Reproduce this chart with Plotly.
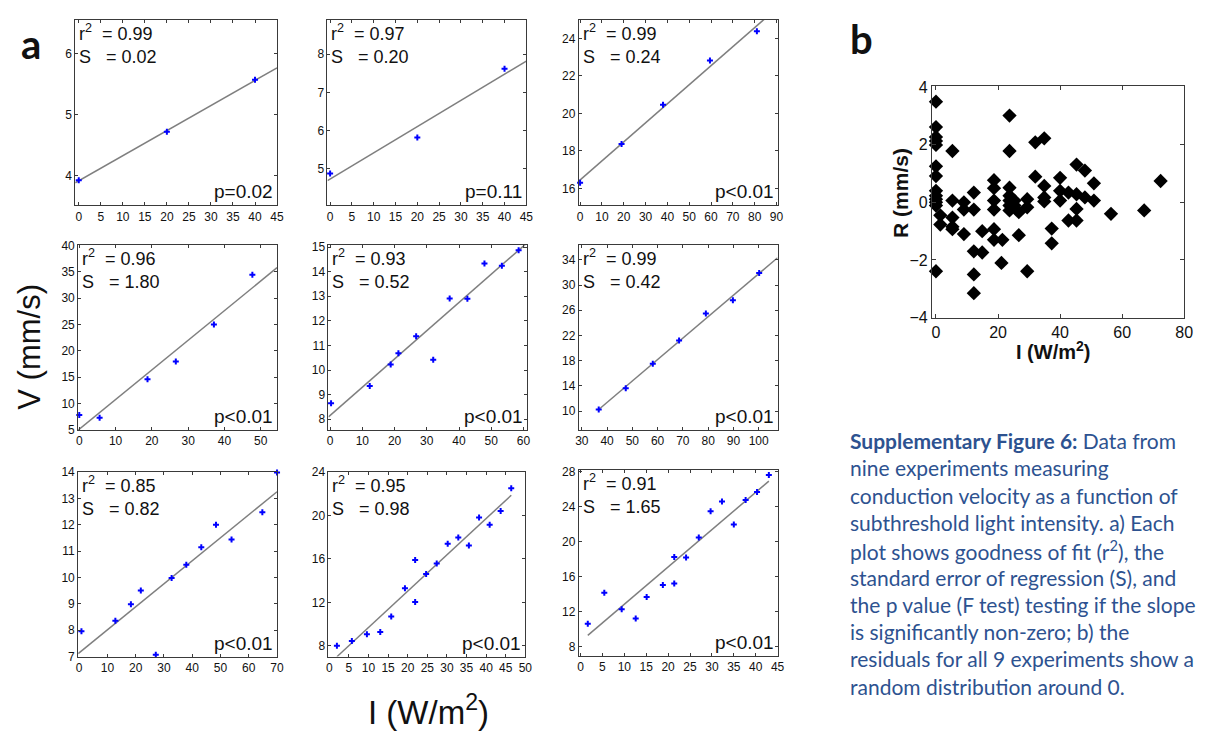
import numpy as np
import plotly.graph_objects as go

W, H = 1212, 734

# ---------------- data (panel a: nine experiments) ----------------
p1_x = [0, 20, 40]
p1_y = [3.93, 4.72, 5.57]
p2_x = [0, 20, 40]
p2_y = [4.88, 5.82, 7.62]
p3_x = [0, 19, 38, 59.5, 81]
p3_y = [16.3, 18.37, 20.47, 22.82, 24.38]
p4_x = [0, 5.6, 18.8, 26.6, 37.1, 47.7]
p4_y = [7.83, 7.34, 14.6, 18.0, 25.0, 34.45]
p5_x = [0.3, 12.3, 18.8, 21.2, 26.7, 32, 37.1, 42.6, 47.9, 53.3, 58.5]
p5_y = [8.65, 9.35, 10.22, 10.68, 11.37, 10.42, 12.91, 12.9, 14.33, 14.24, 14.87]
p6_x = [36.7, 47.4, 58.1, 68.5, 79.1, 89.8, 100.2]
p6_y = [10.26, 13.63, 17.5, 21.2, 25.5, 27.6, 31.9]
p7_x = [0.8, 12.8, 18.3, 21.8, 27.1, 32.7, 37.9, 43.2, 48.4, 53.9, 64.8, 70]
p7_y = [7.96, 8.36, 8.99, 9.51, 7.07, 9.98, 10.48, 11.15, 12.0, 11.44, 12.47, 13.98]
p8_x = [1.95, 5.76, 9.6, 13.0, 15.8, 19.3, 21.9, 21.9, 24.7, 27.4, 30.2, 32.9, 35.6, 38.2, 40.9, 43.7, 46.4]
p8_y = [8.0, 8.45, 9.05, 9.26, 10.7, 13.3, 15.9, 12.04, 14.6, 15.57, 17.4, 17.96, 17.24, 19.8, 19.15, 20.4, 22.5]
p9_x = [1.66, 5.43, 9.4, 12.6, 15.1, 18.8, 21.4, 21.4, 24.1, 27.0, 29.7, 32.3, 35.0, 37.7, 40.3, 43.0]
p9_y = [10.64, 14.17, 12.31, 11.23, 13.69, 15.06, 18.26, 15.25, 18.22, 20.49, 23.5, 24.62, 21.98, 24.77, 25.7, 27.63]

r2_vals = ["0.99", "0.97", "0.99", "0.96", "0.93", "0.99", "0.85", "0.95", "0.91"]
s_vals = ["0.02", "0.20", "0.24", "1.80", "0.52", "0.42", "0.82", "0.98", "1.65"]
p_vals = ["p=0.02", "p=0.11", "p<0.01", "p<0.01", "p<0.01", "p<0.01", "p<0.01", "p<0.01", "p<0.01"]

# ---------------- data (panel b: residuals) ----------------
res_x = [0, 0, 0, 0, 0, 0, 0, 0, 0, 0, 0, 0, 0,
         1.4, 1.4, 5.3, 5.3, 5.3, 5.3, 5.3, 9, 9, 9,
         12.2, 12.2, 12.2, 12.2, 12.2, 14.9, 14.9,
         18.7, 18.7, 18.7, 18.7, 18.7, 18.7, 21.4, 21.1,
         23.7, 23.7, 23.7, 23.7, 23.7, 23.7, 23.7, 25.3, 25.3, 26.7, 26.7,
         29.4, 29.4, 29.4, 32, 32, 34.9, 34.9, 34.9, 34.9, 37.3, 37.3,
         40, 40, 40, 42.7, 42.7, 45.3, 45.3, 45.3, 45.3, 48, 48, 50.9, 50.9,
         56.4, 67.1, 72.4]
res_y = [3.49, 2.61, 2.27, 2.13, 1.99, 1.25, 0.91, 0.4, 0.23, 0.11, 0.0, -0.11, -2.39,
         -0.45, -0.77, 1.78, 0.06, -0.53, -0.85, -0.93, 0.0, -0.25, -1.1,
         0.34, -0.25, -1.7, -2.5, -3.15, -1.0, -1.74,
         0.77, 0.49, 0.06, -0.25, -0.93, -1.3, -1.3, -2.1,
         3.01, 1.78, 0.51, 0.23, 0.06, -0.11, -0.28, 0.06, -0.11, -0.34, -1.14,
         0.11, -0.17, -2.39, 2.08, 0.89, 2.22, 0.57, 0.17, 0.03, -0.91, -1.42,
         0.85, 0.4, 0.06, 0.34, -0.63, 1.31, 0.28, -0.23, -0.63, 1.1, 0.17, 0.66, 0.06,
         -0.4, -0.28, 0.74]

xs_all = [p1_x, p2_x, p3_x, p4_x, p5_x, p6_x, p7_x, p8_x, p9_x]
ys_all = [p1_y, p2_y, p3_y, p4_y, p5_y, p6_y, p7_y, p8_y, p9_y]

# ---------------- layout geometry (pixels) ----------------
boxes = [(72, 276, 12, 202), (327, 528, 12, 202), (581, 782, 12, 202),
         (75, 276, 243, 432), (328, 529, 243, 432), (581, 782, 243, 432),
         (75, 276, 475, 664), (328, 527, 475, 664), (581, 782, 473, 663)]
xr = [[-0.8, 45], [-0.6, 45], [-0.6, 90.5], [-0.3, 54.5], [-0.5, 61.2],
      [28.8, 107.5], [-0.35, 70], [-0.2, 50], [-0.4, 45]]
yr = [[3.52, 6.55], [4.05, 8.9], [15.1, 25], [5, 40], [7.56, 15.07],
      [7, 36.3], [7, 14], [7, 24], [7, 28.2]]
xt = [(0, 5), (0, 5), (0, 10), (0, 10), (0, 10), (30, 10), (0, 10), (0, 5), (0, 5)]
yt = [(4, 1), (4, 1), (16, 2), (5, 5), (8, 1), (10, 4), (7, 1), (8, 4), (8, 4)]
linemode = ['axis', 'axis', 'axis', 'axis', 'axis', 'right', 'axis', 'data', 'data']

ARIAL = "Liberation Sans, Arial, sans-serif"
TICKFONT = dict(family=ARIAL, size=12, color="#111")
FRAME = "#3a3a3a"

fig = go.Figure()
layout = dict(width=W, height=H, margin=dict(l=0, r=0, t=0, b=0),
              paper_bgcolor="white", plot_bgcolor="white", showlegend=False)
annotations = []


def dom_x(l, r):
    return [l / W, r / W]


def dom_y(t, b):
    return [1 - b / H, 1 - t / H]


for i in range(9):
    n = i + 1
    sfx = "" if n == 1 else str(n)
    xa, ya = "x" + sfx, "y" + sfx
    l, r, t, b = boxes[i]
    x = np.array(xs_all[i], dtype=float)
    y = np.array(ys_all[i], dtype=float)
    coef = np.polyfit(x, y, 1)
    if linemode[i] == 'axis':
        lx = np.array([xr[i][0], xr[i][1]])
    elif linemode[i] == 'right':
        lx = np.array([x.min(), xr[i][1]])
    else:
        lx = np.array([x.min(), x.max()])
    fig.add_trace(go.Scatter(x=lx, y=np.polyval(coef, lx), mode="lines",
                             line=dict(color="#7f7f7f", width=1.5),
                             xaxis=xa, yaxis=ya, hoverinfo="skip"))
    fig.add_trace(go.Scatter(x=x, y=y, mode="markers",
                             marker=dict(symbol="cross", size=5, color="#0000ff"),
                             xaxis=xa, yaxis=ya, cliponaxis=False))
    layout["xaxis" + sfx] = dict(domain=dom_x(l, r), anchor=ya, range=xr[i],
                                 tick0=xt[i][0], dtick=xt[i][1],
                                 showline=True, linecolor=FRAME, linewidth=1, mirror="ticks",
                                 ticks="inside", ticklen=3, tickcolor=FRAME,
                                 showgrid=False, zeroline=False, tickfont=TICKFONT)
    layout["yaxis" + sfx] = dict(domain=dom_y(t, b), anchor=xa, range=yr[i],
                                 tick0=yt[i][0], dtick=yt[i][1],
                                 showline=True, linecolor=FRAME, linewidth=1, mirror="ticks",
                                 ticks="inside", ticklen=3, tickcolor=FRAME,
                                 showgrid=False, zeroline=False, tickfont=TICKFONT)
    annotations.append(dict(xref=xa + " domain", yref=ya + " domain", x=0, y=1,
                            xanchor="left", yanchor="top", xshift=2, yshift=1,
                            showarrow=False, align="left",
                            text=f"r<sup>2</sup>\u00a0\u00a0= {r2_vals[i]}<br>S\u00a0\u00a0 = {s_vals[i]}",
                            font=dict(family=ARIAL, size=18, color="#111")))
    annotations.append(dict(xref=xa + " domain", yref=ya + " domain", x=1, y=0,
                            xanchor="right", yanchor="bottom", xshift=-2, yshift=1,
                            showarrow=False, text=p_vals[i],
                            font=dict(family=ARIAL, size=19, color="#111")))

# ---------------- panel b ----------------
fig.add_trace(go.Scatter(x=res_x, y=res_y, mode="markers",
                         marker=dict(symbol="diamond", size=11, color="black"),
                         xaxis="x10", yaxis="y10", cliponaxis=False))
TICKB = dict(family=ARIAL, size=16, color="#111")
layout["xaxis10"] = dict(domain=dom_x(938, 1193), anchor="y10", range=[-1.3, 80],
                         tick0=0, dtick=20, showline=True, linecolor=FRAME, linewidth=1,
                         mirror="ticks", ticks="inside", ticklen=4, tickcolor=FRAME,
                         showgrid=False, zeroline=False, tickfont=TICKB)
layout["yaxis10"] = dict(domain=dom_y(80, 317), anchor="x10", range=[-4, 4.03],
                         tick0=-4, dtick=2, showline=True, linecolor=FRAME, linewidth=1,
                         mirror="ticks", ticks="inside", ticklen=4, tickcolor=FRAME,
                         showgrid=False, zeroline=False, tickfont=TICKB)


def px_ann(text, x, y, size, family, color="#111", angle=0, xanchor="center", yanchor="middle"):
    return dict(xref="paper", yref="paper", x=x / W, y=1 - y / H, text=text,
                showarrow=False, textangle=angle, xanchor=xanchor, yanchor=yanchor,
                font=dict(family=family, size=size, color=color))


annotations.append(px_ann("<b>R (mm/s)</b>", 906, 189, 21, ARIAL, angle=-90))
annotations.append(px_ann("<b>I (W/m<sup>2</sup>)</b>", 1060, 351, 20, ARIAL))

# big labels
annotations.append(px_ann("V (mm/s)", 26, 347, 31, ARIAL, angle=-90))
annotations.append(px_ann("I (W/m<sup>2</sup>)", 429, 719, 33, ARIAL))
annotations.append(px_ann("<b>a</b>", 27, 37, 40, "Lato, Liberation Sans, sans-serif"))
annotations.append(px_ann("<b>b</b>", 867, 32, 40, "Lato, Liberation Sans, sans-serif"))

# caption
caption_lines = [
    "<b>Supplementary Figure 6:</b> Data from",
    "nine experiments measuring",
    "conduction velocity as a function of",
    "subthreshold light intensity. a) Each",
    "plot shows goodness of fit (r<sup>2</sup>), the",
    "standard error of regression (S), and",
    "the p value (F test) testing if the slope",
    "is significantly non-zero; b) the",
    "residuals for all 9 experiments show a",
    "random distribution around 0.",
]
for k, line in enumerate(caption_lines):
    annotations.append(px_ann(line, 853, 443 + 27.9 * k, 21, "Lato, Open Sans, sans-serif",
                              color="#2D5290", xanchor="left"))

layout["annotations"] = annotations
fig.update_layout(**layout)
fig.write_html("out.html", config={"displayModeBar": False},
               post_script="document.body.style.margin='0px';document.body.style.overflow='hidden';")
